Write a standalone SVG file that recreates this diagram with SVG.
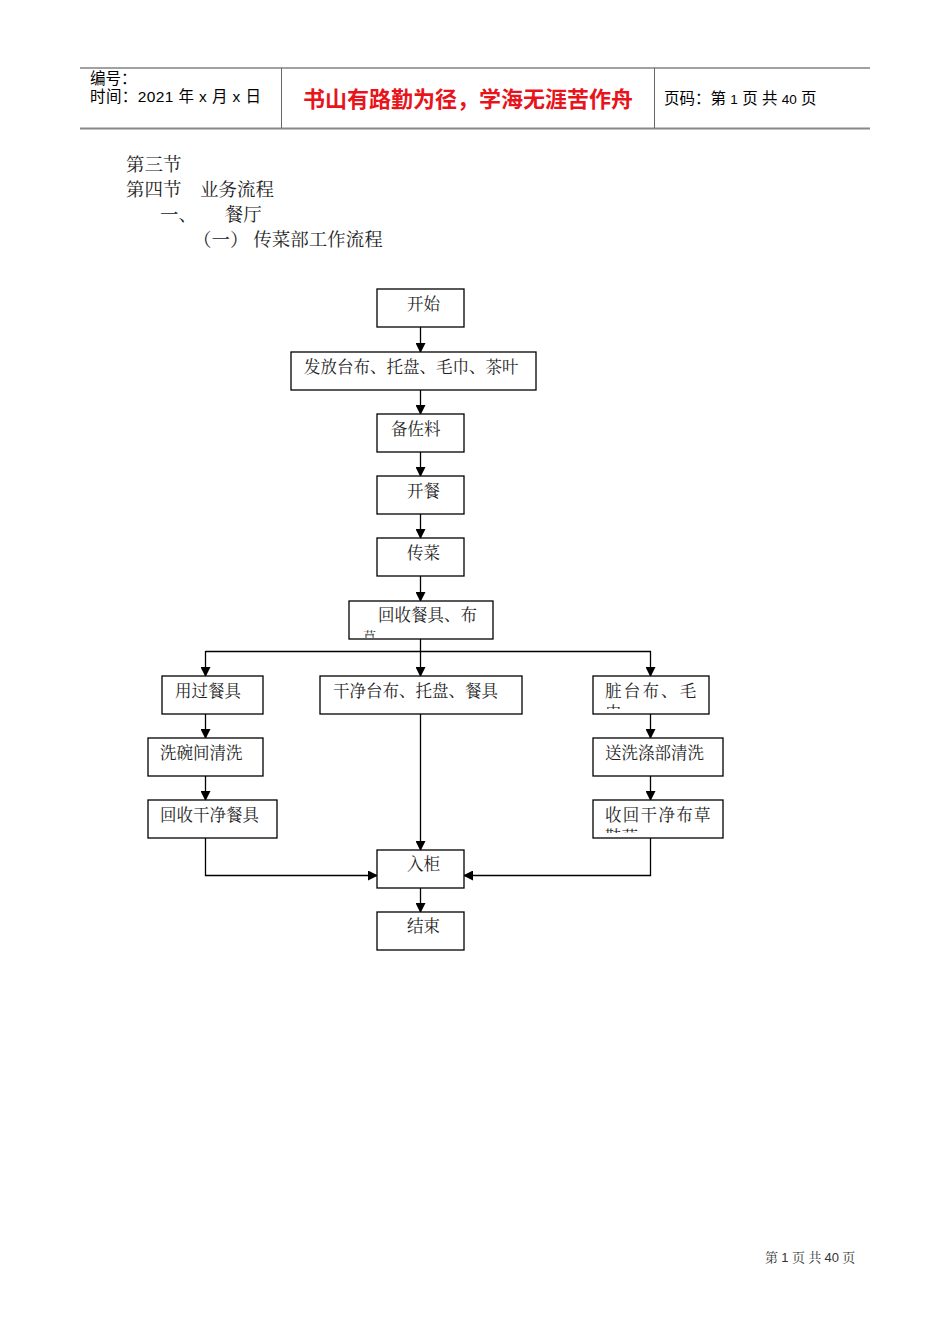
<svg xmlns="http://www.w3.org/2000/svg" width="950" height="1344" viewBox="0 0 950 1344">
<style>
.hd{font-family:"Liberation Sans","Noto Sans CJK SC",sans-serif;font-size:15.5px;fill:#000}
.t{font-family:"Noto Serif CJK SC","Noto Sans CJK SC",serif;font-size:18.5px;fill:#222}
.n{font-family:"Noto Serif CJK SC","Noto Sans CJK SC",serif;font-size:16.5px;fill:#222}
.b{fill:#fff;stroke:#000;stroke-width:1.3}
.c{fill:none;stroke:#000;stroke-width:1.3}
</style>
<defs>
<marker id="ah" markerWidth="10" markerHeight="10" refX="9" refY="5" orient="auto" markerUnits="userSpaceOnUse">
<path d="M0,0 L10,5 L0,10 z" fill="#000"/>
</marker>
<clipPath id="cp1"><rect x="349" y="601" width="144" height="37"/></clipPath>
<clipPath id="cp2"><rect x="593" y="676" width="116" height="33"/></clipPath>
<clipPath id="cp3"><rect x="593" y="800" width="130" height="33"/></clipPath>
</defs>
<g id="header">
<line x1="80" y1="68" x2="870" y2="68" stroke="#444" stroke-width="1.2"/>
<line x1="80" y1="128.5" x2="870" y2="128.5" stroke="#888" stroke-width="2"/>
<line x1="281.5" y1="68" x2="281.5" y2="128" stroke="#666" stroke-width="1"/>
<line x1="654.5" y1="68" x2="654.5" y2="128" stroke="#666" stroke-width="1"/>
<text class="hd" x="90" y="84">编号：</text>
<text class="hd" x="90" y="102" letter-spacing="0.4">时间：2021 年 x 月 x 日</text>
<text x="468" y="107" text-anchor="middle" style="font-family:'Noto Sans CJK SC',sans-serif;font-size:22px;font-weight:bold;fill:#e8141b">书山有路勤为径，学海无涯苦作舟</text>
<text class="hd" x="664" y="104">页码：第 <tspan style="font-size:13.5px">1</tspan> 页 共 <tspan style="font-size:13.5px">40</tspan> 页</text>
</g>
<g id="headings">
<text class="t" x="126" y="171">第三节</text>
<text class="t" x="126" y="196">第四节　业务流程</text>
<text class="t" x="160" y="221">一、　　餐厅</text>
<text class="t" x="193" y="246">（一） 传菜部工作流程</text>
</g>
<g id="connectors">
<line class="c" x1="420.5" y1="327" x2="420.5" y2="352" marker-end="url(#ah)"/>
<line class="c" x1="420.5" y1="390" x2="420.5" y2="414" marker-end="url(#ah)"/>
<line class="c" x1="420.5" y1="452" x2="420.5" y2="476" marker-end="url(#ah)"/>
<line class="c" x1="420.5" y1="514" x2="420.5" y2="538" marker-end="url(#ah)"/>
<line class="c" x1="420.5" y1="576" x2="420.5" y2="601" marker-end="url(#ah)"/>
<line class="c" x1="420.5" y1="639" x2="420.5" y2="651"/>
<line class="c" x1="205.5" y1="651.5" x2="651" y2="651.5"/>
<line class="c" x1="205.5" y1="651" x2="205.5" y2="676" marker-end="url(#ah)"/>
<line class="c" x1="420.5" y1="651" x2="420.5" y2="676" marker-end="url(#ah)"/>
<line class="c" x1="650.5" y1="651" x2="650.5" y2="676" marker-end="url(#ah)"/>
<line class="c" x1="205.5" y1="714" x2="205.5" y2="738" marker-end="url(#ah)"/>
<line class="c" x1="205.5" y1="776" x2="205.5" y2="800" marker-end="url(#ah)"/>
<line class="c" x1="650.5" y1="714" x2="650.5" y2="738" marker-end="url(#ah)"/>
<line class="c" x1="650.5" y1="776" x2="650.5" y2="800" marker-end="url(#ah)"/>
<line class="c" x1="420.5" y1="714" x2="420.5" y2="850" marker-end="url(#ah)"/>
<polyline class="c" points="205.5,838 205.5,875.5 377,875.5" marker-end="url(#ah)"/>
<polyline class="c" points="650.5,838 650.5,875.5 464,875.5" marker-end="url(#ah)"/>
<line class="c" x1="420.5" y1="888" x2="420.5" y2="912" marker-end="url(#ah)"/>
</g>
<g id="n-start"><rect class="b" x="377" y="289" width="87" height="38"/><text class="n" x="407" y="310">开始</text></g>
<g id="n-issue"><rect class="b" x="291" y="352" width="245" height="38"/><text class="n" x="304" y="373">发放台布、托盘、毛巾、茶叶</text></g>
<g id="n-season"><rect class="b" x="377" y="414" width="87" height="38"/><text class="n" x="391" y="435">备佐料</text></g>
<g id="n-open"><rect class="b" x="377" y="476" width="87" height="38"/><text class="n" x="407" y="497">开餐</text></g>
<g id="n-serve"><rect class="b" x="377" y="538" width="87" height="38"/><text class="n" x="407" y="559">传菜</text></g>
<g id="n-collect"><rect class="b" x="349" y="601" width="144" height="38"/><g clip-path="url(#cp1)"><text class="n" x="378" y="621">回收餐具、布</text><text class="n" x="363" y="641" style="font-size:13px">草</text></g></g>
<g id="n-used"><rect class="b" x="162" y="676" width="101" height="38"/><text class="n" x="175" y="697">用过餐具</text></g>
<g id="n-clean"><rect class="b" x="320" y="676" width="202" height="38"/><text class="n" x="333" y="697">干净台布、托盘、餐具</text></g>
<g id="n-dirty"><rect class="b" x="593" y="676" width="116" height="38"/><g clip-path="url(#cp2)"><text class="n" x="605" y="697" letter-spacing="2.2">脏台布、毛</text><text class="n" x="605" y="719">巾</text></g></g>
<g id="n-wash"><rect class="b" x="148" y="738" width="115" height="38"/><text class="n" x="160" y="759">洗碗间清洗</text></g>
<g id="n-laundry"><rect class="b" x="593" y="738" width="130" height="38"/><text class="n" x="605" y="759">送洗涤部清洗</text></g>
<g id="n-cleanware"><rect class="b" x="148" y="800" width="129" height="38"/><text class="n" x="160" y="821">回收干净餐具</text></g>
<g id="n-cleancloth"><rect class="b" x="593" y="800" width="130" height="38"/><g clip-path="url(#cp3)"><text class="n" x="605" y="821" letter-spacing="1.3">收回干净布草</text><text class="n" x="605" y="843">鞋草</text></g></g>
<g id="n-cabinet"><rect class="b" x="377" y="850" width="87" height="38"/><text class="n" x="407" y="870">入柜</text></g>
<g id="n-end"><rect class="b" x="377" y="912" width="87" height="38"/><text class="n" x="407" y="932">结束</text></g>
<g id="footer"><text x="765" y="1262" style="font-family:'Noto Serif CJK SC','Noto Sans CJK SC',serif;font-size:13px;fill:#333">第 <tspan style="font-family:'Liberation Sans',sans-serif">1</tspan> 页 共 <tspan style="font-family:'Liberation Sans',sans-serif">40</tspan> 页</text></g>
</svg>
